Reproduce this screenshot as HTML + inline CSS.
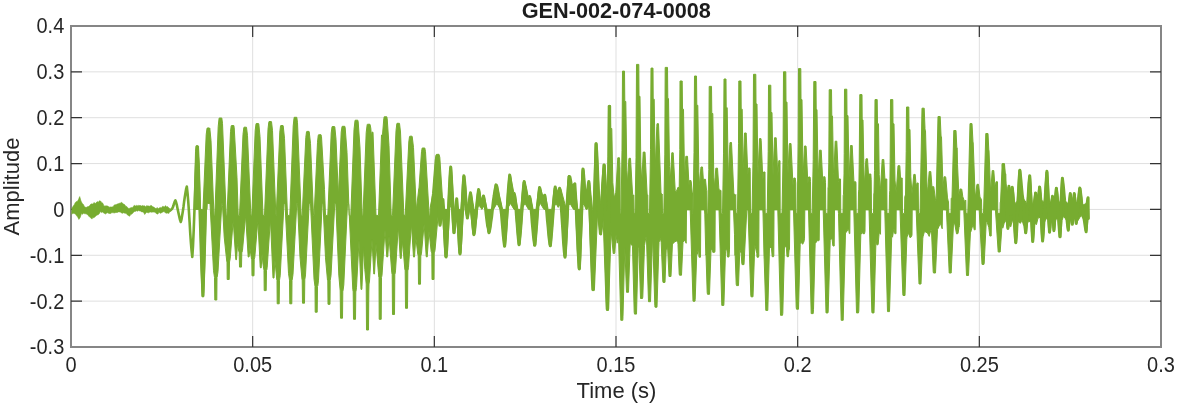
<!DOCTYPE html>
<html><head><meta charset="utf-8"><title>GEN-002-074-0008</title>
<style>html,body{margin:0;padding:0;background:#fff;width:1177px;height:404px;overflow:hidden}</style>
</head><body>
<svg width="1177" height="404" viewBox="0 0 1177 404" style="position:absolute;left:0;top:0;will-change:transform">
<rect width="1177" height="404" fill="#fff"/>
<path d="M252.67 26.0V347.0M434.33 26.0V347.0M616.00 26.0V347.0M797.67 26.0V347.0M979.33 26.0V347.0M71.0 71.86H1161.0M71.0 117.71H1161.0M71.0 163.57H1161.0M71.0 209.43H1161.0M71.0 255.29H1161.0M71.0 301.14H1161.0" stroke="#dfdfdf" stroke-width="1" fill="none"/>
<rect x="71.0" y="26.0" width="1090.0" height="321.0" fill="none" stroke="#868686" stroke-width="2"/>
<path d="M252.67 347.0v-11M252.67 26.0v11M434.33 347.0v-11M434.33 26.0v11M616.00 347.0v-11M616.00 26.0v11M797.67 347.0v-11M797.67 26.0v11M979.33 347.0v-11M979.33 26.0v11M71.0 71.86h11M1161.0 71.86h-11M71.0 117.71h11M1161.0 117.71h-11M71.0 163.57h11M1161.0 163.57h-11M71.0 209.43h11M1161.0 209.43h-11M71.0 255.29h11M1161.0 255.29h-11M71.0 301.14h11M1161.0 301.14h-11" stroke="#333" stroke-width="1.2" fill="none"/>
<g fill="#77ac30" stroke="#77ac30" stroke-linejoin="round" stroke-linecap="round">
<polygon points="71.9,208.0 73.1,206.3 74.2,204.8 75.4,202.4 76.5,201.5 77.5,201.3 78.6,199.3 79.7,196.6 81.0,201.1 82.3,203.6 83.4,204.4 84.5,206.7 85.6,207.3 86.7,207.3 87.8,206.6 88.8,206.5 89.9,205.3 91.0,203.9 92.0,203.9 93.1,204.1 94.1,202.4 95.2,203.6 96.2,202.6 97.3,201.6 98.3,202.3 99.4,200.8 100.5,201.0 101.6,202.4 102.7,203.1 103.8,205.4 104.9,206.3 105.9,205.7 107.0,206.0 108.0,206.1 109.1,207.2 110.1,206.9 111.1,207.0 112.2,207.0 113.2,206.6 114.3,204.9 115.3,204.8 116.3,204.5 117.3,204.0 118.3,203.7 119.3,203.3 120.3,203.3 121.3,202.2 122.4,203.1 123.5,204.1 124.6,204.6 125.7,206.2 126.8,206.5 127.8,208.0 128.9,208.5 130.0,208.2 131.1,207.5 132.2,207.8 133.2,206.7 134.3,205.2 135.3,206.0 136.4,205.4 137.4,205.7 138.5,205.4 139.5,205.5 140.5,205.5 141.6,206.1 142.6,205.5 143.7,205.9 144.7,205.8 145.7,206.9 146.7,205.6 147.8,206.1 148.8,205.9 149.8,206.3 150.8,205.4 151.9,205.8 152.9,206.9 154.0,207.1 155.1,208.3 156.1,208.6 157.2,207.5 158.2,208.8 159.3,207.9 160.3,207.4 161.3,207.9 162.4,206.4 163.4,206.4 164.5,207.0 165.5,205.6 166.6,207.0 167.7,206.6 168.8,208.0 169.9,208.6 169.0,213.4 167.8,213.0 166.7,213.2 165.6,213.1 164.4,211.8 163.2,211.7 162.1,212.4 161.1,212.9 160.0,213.3 159.0,212.3 157.9,214.1 156.9,214.0 155.9,213.0 154.9,212.2 153.9,212.1 152.8,212.0 151.8,212.3 150.8,212.0 149.8,212.1 148.8,212.8 147.8,212.7 146.7,212.2 145.7,213.2 144.7,214.5 143.7,212.4 142.6,211.9 141.6,212.0 140.5,210.9 139.5,210.9 138.5,210.6 137.4,211.2 136.4,210.8 135.3,211.4 134.3,211.4 133.1,212.8 131.9,214.0 130.7,214.6 129.5,216.3 128.3,215.4 127.2,214.7 126.0,213.2 124.8,213.2 123.7,212.7 122.6,213.3 121.5,212.9 120.3,212.1 119.2,211.9 118.1,211.9 117.0,212.7 116.0,212.2 115.0,213.0 114.0,212.8 112.9,212.8 111.9,212.5 110.9,213.4 109.9,213.6 108.8,213.4 107.8,212.7 106.7,213.1 105.7,214.0 104.7,213.6 103.6,212.9 102.6,212.1 101.5,212.6 100.5,211.4 99.4,213.5 98.2,214.8 97.1,215.0 96.1,215.7 95.0,216.7 94.0,217.8 92.9,217.6 91.9,219.1 90.9,218.1 89.8,216.9 88.8,216.2 87.7,215.1 86.7,214.0 85.7,213.8 84.6,213.7 83.6,213.3 82.5,214.3 81.5,213.5 80.2,217.4 78.9,219.4 77.7,217.0 76.6,215.8 75.4,213.9 74.2,213.5 73.1,213.3 71.9,214.1" stroke-width="0.6"/>
<polygon points="194.0,209.4 195.5,151.8 196.0,145.8 198.2,145.8 198.5,146.2 199.5,168.8 200.5,209.4 202.8,209.4 203.0,208.8 206.2,134.5 207.0,128.5 207.2,128.0 209.5,128.0 209.8,128.3 211.0,140.5 214.0,215.4 214.8,215.4 218.2,126.5 219.0,119.0 219.2,118.0 221.8,118.0 222.5,123.4 226.2,215.4 227.0,215.4 230.5,131.6 231.2,125.8 231.5,125.5 233.8,125.5 234.2,127.4 237.0,177.8 238.2,215.4 239.5,215.4 243.0,134.3 243.8,127.9 244.0,127.2 246.2,127.2 246.5,127.3 247.5,135.6 250.8,213.7 251.0,215.4 251.8,215.4 255.2,130.3 256.0,124.0 256.2,123.5 258.5,123.5 258.8,123.8 260.0,136.6 263.0,215.4 264.5,215.4 268.0,129.1 268.8,122.2 269.0,121.5 271.2,121.5 271.5,121.7 272.5,130.4 275.8,213.6 276.0,215.4 276.2,215.4 279.8,132.1 280.5,126.0 280.8,125.5 283.0,125.5 283.2,125.8 284.5,138.3 287.5,215.4 289.8,215.4 293.2,125.9 294.0,118.3 294.2,117.3 296.8,117.3 297.5,122.7 301.2,215.4 302.2,215.4 305.8,137.6 306.5,131.8 306.8,131.4 309.0,131.4 309.2,131.7 310.5,143.4 313.5,215.4 314.0,215.4 314.2,213.8 317.5,142.3 318.2,135.8 318.5,134.8 321.0,134.7 321.5,136.7 324.5,189.4 325.5,215.4 327.8,215.4 331.2,133.1 332.0,127.0 332.2,126.5 334.5,126.5 334.8,126.8 336.0,139.2 338.2,191.2 338.5,193.7 341.2,132.2 342.0,126.8 342.2,126.3 344.8,126.3 345.2,128.0 347.0,152.3 349.2,215.4 350.8,215.4 354.0,129.6 355.0,120.8 355.2,120.2 357.8,120.2 358.2,122.0 360.0,148.0 362.2,215.4 363.0,215.4 366.2,132.5 367.2,124.6 367.5,124.2 370.0,124.3 370.8,128.2 371.5,137.5 371.8,133.5 372.0,132.2 373.0,132.2 376.0,215.4 378.5,215.4 381.5,135.0 382.5,134.8 383.8,118.7 384.2,116.8 386.8,116.8 387.2,118.7 389.0,145.5 391.2,215.4 392.5,215.4 396.0,130.7 396.8,124.0 397.0,123.3 399.2,123.3 399.5,123.4 400.5,132.0 403.8,213.6 404.0,215.4 405.2,215.4 408.8,142.0 409.5,136.6 409.8,136.2 412.0,136.2 412.2,136.5 413.5,147.5 416.2,207.9 416.5,208.5 418.8,188.4 419.0,188.0 421.5,151.7 422.2,148.0 424.8,148.0 425.5,151.7 429.2,215.4 430.0,215.4 430.2,207.9 432.5,195.4 433.0,195.4 435.8,158.0 436.5,154.4 439.0,154.3 439.8,157.3 443.2,209.4 447.5,209.4 447.8,208.2 449.8,168.3 450.0,167.8 451.5,167.8 454.2,208.5 454.5,209.4 460.8,209.4 463.0,176.0 464.8,176.0 467.5,209.4 469.5,193.8 469.8,193.4 471.2,193.4 471.5,193.7 474.0,208.7 474.2,209.4 475.5,209.4 477.8,190.0 479.5,190.0 481.5,202.5 482.5,197.0 482.8,196.7 484.2,196.7 484.5,196.9 487.0,208.8 487.2,209.4 492.5,209.4 490.0,232.4 488.0,232.4 485.5,211.1 485.2,206.9 484.2,205.1 482.0,209.4 481.5,209.1 479.5,203.7 479.2,203.8 477.8,207.9 475.0,233.7 474.8,234.6 473.0,234.6 470.0,207.1 468.2,217.7 466.8,218.0 465.0,209.9 464.8,203.5 463.8,206.0 461.0,253.5 459.0,253.5 456.5,212.7 456.2,212.9 454.8,233.5 453.2,233.5 451.8,212.9 451.5,203.4 449.8,208.2 447.0,257.0 445.0,257.0 442.5,212.9 442.2,211.6 440.8,224.6 439.2,224.6 438.2,216.1 438.0,216.7 435.0,250.3 434.5,252.5 434.2,252.9 434.0,279.5 432.0,279.5 431.8,252.9 431.2,251.6 429.0,231.0 427.2,257.0 426.5,257.0 426.2,256.2 424.2,224.5 424.0,225.4 421.5,253.1 421.0,255.4 420.8,255.8 420.5,284.2 418.5,284.2 418.2,255.8 417.8,254.5 415.8,237.2 414.5,257.0 413.5,257.0 411.5,225.3 411.2,226.7 408.5,267.3 408.0,270.3 407.8,270.7 407.5,308.3 405.5,308.3 405.2,270.7 404.8,269.0 402.5,241.0 401.2,258.5 400.5,258.5 400.2,257.7 398.5,229.0 398.2,228.0 395.5,270.9 395.0,274.1 394.8,274.6 394.5,314.5 392.5,314.5 392.2,274.6 391.8,272.8 389.0,236.4 387.8,256.2 387.5,257.0 386.8,257.0 385.0,230.0 382.0,275.3 381.5,277.5 381.2,319.3 379.2,319.3 379.0,277.5 378.8,277.2 376.0,243.9 374.5,274.0 373.8,274.0 372.0,239.7 369.5,281.0 369.0,284.0 368.8,292.0 368.5,330.0 366.5,330.0 366.2,284.1 364.8,269.5 363.5,246.7 362.0,286.7 361.8,289.4 361.0,289.4 359.0,240.6 356.5,287.3 356.0,291.2 355.8,291.8 355.5,319.3 353.5,319.3 353.2,291.8 352.8,289.6 348.8,205.0 348.5,203.4 347.5,203.4 343.8,284.9 343.0,290.8 342.8,291.0 342.5,318.2 340.5,318.2 340.2,290.9 338.8,275.1 335.8,203.4 334.8,203.4 331.0,275.7 330.2,280.5 330.0,304.3 328.0,304.3 327.8,280.6 327.5,280.4 325.5,257.8 323.0,203.4 322.2,203.4 318.5,280.2 317.8,286.1 317.5,286.5 317.2,312.2 315.2,312.2 315.0,286.5 314.0,279.0 310.5,203.4 309.2,203.4 305.5,274.9 304.8,279.7 304.5,303.2 302.5,303.2 302.2,279.8 302.0,279.6 300.0,257.2 297.5,203.4 296.8,203.4 293.0,274.4 292.2,279.9 292.0,280.2 291.8,303.8 289.8,303.8 289.5,280.2 288.5,273.3 285.0,203.4 284.0,203.4 280.2,275.8 279.5,280.2 279.2,303.8 277.2,303.8 277.0,280.2 276.8,279.9 275.0,260.9 274.8,260.9 274.0,278.0 273.0,278.0 270.5,220.8 270.2,222.4 267.2,267.3 266.8,270.0 266.5,270.3 266.2,290.6 264.2,290.6 264.0,270.3 263.0,264.3 262.2,255.5 262.0,254.3 261.2,267.9 260.5,267.9 260.2,266.9 258.0,223.0 257.8,221.0 254.8,257.3 254.2,259.2 254.0,275.8 252.0,275.8 251.8,259.2 251.5,259.1 250.0,248.5 249.8,248.3 249.2,256.2 249.0,257.0 248.2,257.0 245.8,218.1 245.5,216.6 242.5,250.2 242.0,252.3 241.8,252.7 241.5,267.1 239.5,267.1 239.2,252.7 238.8,251.4 237.8,244.6 237.5,244.6 236.5,259.7 235.8,259.7 233.2,220.3 230.2,258.6 229.5,262.0 229.2,279.5 227.2,279.5 227.0,262.0 226.8,261.7 224.2,236.9 222.5,205.5 222.2,203.4 221.8,203.4 218.0,271.7 217.2,277.0 217.0,277.4 216.8,300.0 214.8,300.0 214.5,277.4 213.5,270.7 210.0,203.4 207.2,203.4 207.0,209.4 206.5,209.4 206.2,211.2 204.0,293.2 203.8,296.8 202.0,296.8 199.5,209.4 194.0,209.4" stroke-width="1"/>
<polygon points="492.8,208.2 495.2,184.5 497.0,184.5 502.5,208.9 502.8,209.4 506.0,209.4 506.2,208.7 508.8,176.0 509.0,175.6 510.5,175.6 513.8,192.5 515.0,192.5 517.8,209.0 518.0,209.4 520.5,209.4 520.8,209.1 523.2,182.2 523.5,181.8 525.0,181.8 528.2,196.4 528.5,196.8 528.8,195.6 530.2,195.5 530.5,195.8 533.0,208.8 533.2,209.4 536.0,209.4 538.8,187.8 540.5,187.8 543.2,197.5 543.8,194.9 545.2,194.7 545.5,195.0 548.0,208.7 548.2,209.4 551.8,209.4 554.2,188.1 554.5,187.8 556.0,187.8 558.0,194.4 559.0,188.5 560.8,188.6 565.8,207.4 568.2,176.0 568.5,175.6 570.0,175.6 572.8,190.2 573.5,186.5 575.0,186.5 577.8,209.4 580.0,209.4 582.0,170.4 582.2,169.4 583.8,169.4 584.0,170.2 586.2,202.6 587.8,183.4 588.0,182.3 589.5,182.3 589.8,182.5 592.5,209.4 593.0,209.4 595.2,143.5 597.0,143.5 599.5,203.6 599.8,204.2 600.5,202.9 603.2,164.0 604.8,164.0 605.2,165.9 607.2,198.7 608.0,156.3 608.2,105.7 610.5,105.7 610.8,128.5 611.8,128.5 612.8,182.3 614.2,198.3 615.5,192.8 615.8,192.5 617.8,157.8 619.5,157.8 620.0,169.1 620.2,213.4 621.0,213.4 622.0,150.5 622.5,71.1 624.5,71.1 624.8,101.5 625.8,101.5 626.8,170.3 627.5,182.9 628.8,159.9 629.0,158.3 630.5,158.3 632.5,193.0 632.8,194.7 633.2,195.3 633.8,195.0 634.0,213.4 635.0,213.4 636.0,157.8 636.5,64.4 638.8,64.4 639.0,96.3 640.0,96.3 640.8,163.2 641.8,183.0 643.2,152.1 645.0,152.1 647.2,195.4 647.8,194.9 648.0,213.4 649.5,213.4 650.5,149.3 651.0,68.1 653.0,68.1 653.2,99.2 654.2,99.2 655.2,169.4 656.8,126.3 657.0,123.7 658.5,123.7 661.0,193.0 662.0,194.6 662.2,194.1 662.5,213.4 663.8,213.4 664.8,154.1 665.2,67.4 667.5,67.4 667.8,98.6 668.5,98.6 669.5,166.7 670.2,181.5 671.8,152.8 673.2,152.8 675.2,190.3 675.5,192.0 676.5,191.1 678.0,187.2 679.0,187.7 679.2,187.4 679.8,149.6 680.0,81.0 682.2,81.0 682.5,109.2 683.5,109.2 684.5,175.1 684.8,176.3 685.8,156.3 687.5,156.3 689.0,185.7 689.5,180.5 691.0,180.5 691.2,181.4 692.2,192.3 692.5,192.5 692.8,213.4 693.0,213.4 694.0,152.6 694.5,76.0 696.5,76.0 696.8,105.3 697.8,105.3 698.8,171.7 699.5,183.8 699.8,184.4 700.8,168.3 701.0,167.0 702.5,167.0 703.5,182.2 704.0,179.3 705.5,179.3 706.5,190.1 706.8,190.6 707.0,213.4 707.8,213.4 708.8,169.5 709.2,86.4 711.5,86.4 711.8,113.5 712.8,113.5 713.8,177.3 714.5,187.1 715.8,168.2 717.5,168.2 718.8,187.8 719.0,189.2 719.8,190.2 721.0,190.4 721.2,213.4 722.5,213.4 723.5,153.9 724.0,79.0 726.0,79.0 726.2,107.7 727.2,107.7 728.2,172.5 728.5,175.4 729.8,144.6 730.0,142.5 731.5,142.5 733.8,192.9 734.0,194.0 735.5,195.3 735.8,194.5 736.0,213.4 737.2,213.4 737.5,209.4 738.5,143.7 738.8,81.0 741.0,81.0 741.2,109.2 742.2,109.2 743.0,166.1 743.2,169.3 744.5,133.0 746.2,133.0 747.8,174.2 748.0,173.8 748.2,169.3 748.5,168.0 750.0,168.0 750.2,171.2 750.5,213.4 752.0,213.4 753.0,161.4 753.5,74.3 755.8,74.3 756.0,104.0 757.0,104.0 757.8,166.3 758.0,174.9 759.5,138.6 761.0,138.6 761.2,140.8 762.8,179.0 763.0,178.7 763.5,172.0 765.0,172.0 765.2,213.4 767.2,213.4 768.2,151.5 768.5,85.2 770.8,85.2 771.0,112.5 772.0,112.5 773.0,176.3 774.5,137.8 776.2,137.8 777.8,176.4 778.8,160.7 780.0,160.7 780.2,213.4 782.0,213.4 783.0,160.5 783.5,71.8 785.8,71.8 786.0,102.1 787.0,102.1 787.8,165.5 788.0,174.2 789.2,145.5 789.5,143.5 791.0,143.5 793.0,186.0 793.8,178.0 795.2,178.0 795.8,183.1 796.0,213.4 797.2,213.4 798.2,143.8 798.5,68.6 800.8,68.6 801.0,99.6 802.0,99.6 803.0,171.8 803.2,174.1 804.5,146.0 806.0,146.0 806.2,148.0 807.8,182.2 808.0,182.8 808.5,177.0 810.0,177.0 810.2,178.0 810.5,181.6 810.8,213.4 812.2,213.4 813.2,159.6 813.8,81.5 816.0,81.5 816.2,109.6 817.0,109.6 818.0,171.0 818.2,177.4 819.5,150.2 821.2,150.2 822.8,182.1 823.0,181.4 823.2,177.8 823.5,176.8 825.0,176.8 825.5,182.7 825.8,213.4 827.8,213.4 828.0,187.9 828.2,188.1 828.8,162.8 829.2,89.7 831.5,89.7 831.8,116.0 832.5,116.0 833.5,173.4 833.8,175.8 835.2,141.2 836.8,141.2 838.5,181.2 838.8,181.4 839.0,179.0 840.5,179.0 840.8,213.4 843.0,213.4 843.2,195.5 843.5,194.3 844.0,173.9 844.2,153.4 844.5,89.2 846.8,89.2 847.0,115.6 848.0,115.6 849.0,177.3 849.2,175.9 850.5,145.5 852.2,145.5 854.0,183.3 854.2,181.8 855.8,181.8 856.0,183.3 856.2,213.4 858.2,213.4 858.5,191.2 858.8,189.9 859.2,164.7 859.8,94.6 862.0,94.6 862.2,119.9 863.0,119.9 864.0,174.9 864.5,183.7 865.8,160.4 866.0,158.8 867.5,158.8 868.8,179.7 869.2,174.0 870.8,174.0 871.2,179.7 871.5,213.4 873.5,213.4 873.8,193.4 874.0,193.1 874.5,170.4 875.0,99.6 877.2,99.6 877.5,123.8 878.5,123.8 879.2,174.4 880.2,190.1 880.5,188.7 882.2,159.5 883.8,159.5 885.0,180.7 885.2,179.0 886.8,179.0 887.0,213.4 889.2,213.4 889.5,194.2 889.8,190.6 890.2,158.2 890.5,99.6 892.8,99.6 893.0,123.8 894.0,123.8 895.0,180.1 896.2,193.3 898.0,165.7 899.8,165.7 900.8,182.1 901.2,178.0 902.2,178.0 902.5,213.4 904.5,213.4 904.8,196.7 905.2,195.5 905.5,195.9 906.2,151.6 906.5,107.0 908.8,107.0 909.0,129.5 910.0,129.5 910.8,176.8 912.0,193.9 913.8,174.4 915.2,174.4 916.2,186.4 916.5,186.7 916.8,183.8 917.0,183.0 918.2,183.0 918.5,213.4 920.0,213.4 922.0,108.2 924.2,108.2 925.0,128.4 925.2,130.5 925.5,130.5 927.0,186.3 927.5,193.1 929.2,171.6 930.8,171.6 932.0,187.7 932.2,186.7 933.8,186.7 935.5,200.0 935.8,200.3 936.0,200.0 936.2,198.3 938.0,116.5 940.2,116.5 941.0,135.1 941.2,136.9 941.5,136.9 943.0,188.2 944.0,176.8 945.5,176.8 945.8,177.8 947.5,197.9 948.2,200.9 948.5,201.3 948.8,213.4 951.0,213.4 951.2,198.2 951.8,197.9 952.0,197.5 953.8,130.5 956.0,130.5 956.8,147.4 957.0,147.9 957.2,147.9 957.5,164.3 958.8,192.5 959.0,195.1 959.2,194.6 960.0,189.0 961.5,189.0 961.8,189.6 962.8,196.7 964.5,201.4 965.8,200.1 966.0,213.4 967.8,213.4 970.0,123.6 972.0,123.6 973.0,142.5 973.2,142.5 975.0,193.0 975.5,196.6 976.8,185.1 977.0,184.3 978.5,184.3 980.0,197.4 980.2,197.8 980.5,197.6 981.5,199.9 981.8,213.4 983.5,213.4 985.8,133.5 988.0,133.5 988.8,150.2 989.0,150.2 990.5,189.9 990.8,190.3 992.2,170.6 993.8,170.6 995.0,187.1 995.2,188.3 995.8,182.7 996.0,181.8 997.5,181.8 997.8,213.4 1000.0,213.4 1000.2,202.2 1000.5,202.5 1002.2,163.7 1004.5,163.7 1005.2,173.5 1005.8,173.8 1006.0,183.3 1007.0,196.3 1008.0,186.8 1009.8,186.8 1010.5,194.3 1010.8,194.5 1011.5,187.8 1013.0,187.8 1013.2,188.3 1014.5,201.2 1015.5,203.5 1015.8,203.4 1017.2,200.9 1019.0,170.0 1020.5,170.0 1020.8,170.9 1022.2,198.7 1023.5,198.7 1023.8,199.0 1024.0,199.9 1025.2,200.8 1026.8,204.4 1027.0,204.1 1028.8,176.7 1029.0,175.9 1030.5,175.9 1032.2,202.2 1033.2,204.2 1034.8,192.7 1036.5,192.7 1037.5,199.7 1038.8,186.8 1040.5,186.8 1042.0,201.7 1042.8,200.6 1044.0,203.7 1044.2,203.2 1046.0,171.9 1047.8,171.9 1049.5,202.3 1049.8,202.4 1050.8,201.3 1051.8,196.7 1053.2,196.7 1054.0,200.3 1054.2,200.7 1055.5,187.8 1057.2,187.8 1058.5,200.1 1059.8,203.6 1061.5,178.9 1063.2,178.9 1065.0,202.0 1065.2,201.8 1066.8,202.2 1068.0,204.0 1069.5,193.7 1071.0,193.7 1071.2,194.1 1072.2,201.6 1073.5,193.7 1075.0,193.7 1075.2,194.1 1076.2,201.6 1077.2,202.6 1077.5,202.2 1079.0,187.8 1080.5,187.8 1080.8,188.3 1082.5,205.2 1086.0,203.6 1087.2,197.7 1088.5,197.7 1088.5,211.8 1087.0,230.1 1086.8,231.3 1085.5,231.3 1085.2,230.7 1084.0,216.5 1082.8,218.3 1081.2,215.2 1078.0,220.5 1077.5,219.9 1077.0,223.4 1075.5,223.4 1074.8,219.0 1074.0,217.3 1073.0,224.4 1071.5,224.4 1070.5,216.8 1070.2,216.9 1069.0,230.3 1067.5,230.3 1066.8,221.6 1066.5,220.3 1063.8,216.4 1063.5,216.4 1062.0,220.3 1060.8,237.3 1059.2,237.3 1058.0,218.7 1057.8,218.2 1055.8,219.5 1054.8,229.7 1054.5,230.3 1053.2,230.3 1052.0,218.6 1051.2,221.0 1050.2,232.3 1048.8,232.3 1047.8,220.2 1046.0,218.2 1044.5,222.4 1043.5,239.4 1043.2,241.2 1042.0,241.2 1041.8,240.3 1040.5,218.2 1040.2,217.3 1038.0,218.1 1036.5,224.4 1036.2,224.7 1034.8,223.0 1034.5,223.5 1033.5,241.2 1032.0,241.2 1030.8,220.9 1030.5,220.9 1030.0,221.8 1028.5,221.3 1027.2,223.9 1026.5,233.3 1025.0,233.3 1024.2,224.7 1023.8,225.3 1023.5,225.1 1022.0,220.0 1020.5,223.2 1020.2,223.3 1018.0,221.4 1017.8,221.6 1016.5,243.2 1015.0,243.2 1014.0,225.6 1012.5,219.9 1012.2,220.2 1010.8,226.8 1009.0,225.5 1008.8,227.9 1008.5,228.4 1007.2,228.4 1006.2,220.9 1006.0,220.1 1004.2,223.2 1002.8,228.2 1002.0,225.2 1000.2,252.0 998.2,252.0 995.5,211.0 995.2,209.9 991.5,209.9 991.2,236.0 989.8,236.0 988.8,227.6 986.8,221.0 986.2,222.6 984.2,263.4 984.0,264.4 982.0,264.4 979.2,209.9 975.5,209.9 975.2,229.8 974.2,229.8 973.2,223.9 970.8,231.8 970.5,230.8 968.5,275.5 966.5,275.5 963.8,210.6 963.5,209.9 959.8,209.9 959.5,225.5 959.2,227.0 959.0,227.3 958.0,233.6 956.5,233.8 954.8,224.2 953.5,223.2 951.2,273.0 949.2,273.0 946.5,211.8 946.2,209.9 942.5,209.9 942.2,228.8 940.5,223.7 940.2,223.7 937.5,229.7 935.5,273.0 933.5,273.0 933.2,271.8 931.5,230.7 931.0,230.2 930.8,230.3 929.2,236.4 927.5,233.0 924.5,231.4 923.0,236.8 922.8,238.4 921.0,284.0 919.0,284.0 916.2,210.8 916.0,209.9 912.2,209.9 912.0,234.9 911.5,236.7 910.0,237.7 908.5,233.2 908.2,233.4 907.0,237.1 906.8,239.7 905.0,295.5 903.0,295.5 902.8,293.9 900.0,209.9 896.2,209.9 896.0,233.7 894.8,233.7 894.0,228.8 893.8,229.0 892.5,237.2 892.2,236.7 891.8,233.0 889.5,311.6 887.5,311.6 884.8,211.3 884.5,209.9 880.8,209.9 880.5,234.3 879.2,232.4 878.2,244.2 878.0,244.8 876.8,244.8 876.0,239.1 874.0,312.9 872.0,312.9 871.8,311.0 869.0,209.9 865.2,209.9 865.0,231.3 864.5,233.7 863.0,233.7 862.0,232.5 860.8,234.8 858.8,311.0 858.5,312.9 856.5,312.9 853.8,209.9 850.0,209.9 849.8,233.7 849.5,233.7 849.2,233.3 848.8,229.8 847.8,229.8 846.0,232.7 845.5,232.6 843.2,320.3 841.2,320.3 838.5,213.5 838.2,209.9 834.5,209.9 834.2,246.0 833.0,246.0 832.8,245.4 832.0,237.9 830.2,240.5 828.2,311.0 828.0,312.9 826.0,312.9 823.2,209.9 819.5,209.9 819.2,240.1 818.8,240.8 817.2,240.6 815.8,242.9 815.5,242.9 815.2,242.2 813.5,309.7 813.2,313.6 811.2,313.6 808.5,209.9 804.8,209.9 804.5,238.8 803.8,242.3 803.5,242.3 802.8,244.2 800.5,242.0 800.2,244.5 798.5,309.2 796.5,309.2 796.2,307.4 793.5,209.9 789.8,209.9 789.5,249.4 789.2,248.6 788.5,256.7 787.0,256.7 786.5,248.8 786.2,247.6 784.5,245.8 782.8,313.3 782.5,315.3 780.5,315.3 777.8,209.9 774.0,209.9 773.8,255.9 773.5,256.7 772.2,256.7 771.5,248.3 769.5,246.9 767.8,310.4 765.8,310.4 764.2,259.9 764.0,256.3 763.0,213.1 762.8,209.9 759.0,209.9 758.8,255.9 758.5,257.2 757.0,257.2 756.8,253.2 754.8,244.7 753.0,296.8 751.0,296.8 750.8,295.2 748.0,209.9 746.8,209.9 744.0,264.6 742.0,264.6 741.8,263.6 741.2,253.4 740.0,250.2 739.8,250.3 738.5,285.6 736.5,285.6 736.2,284.2 735.2,256.0 735.0,255.2 734.8,255.2 734.5,234.8 733.5,209.9 729.8,209.9 729.5,249.9 729.0,257.0 727.5,257.0 726.8,248.9 726.0,249.8 725.5,251.2 724.0,301.8 723.8,305.4 721.8,305.4 719.0,209.9 715.2,209.9 715.0,250.8 714.8,252.2 713.5,252.2 713.2,252.8 711.8,249.3 711.5,249.2 711.0,250.5 709.5,294.3 707.5,294.3 707.2,292.7 706.0,254.3 705.8,255.1 704.8,214.1 704.5,209.9 700.8,209.9 700.5,257.2 699.0,257.2 698.5,249.2 698.2,249.6 697.2,254.4 696.8,252.3 695.2,299.5 695.0,301.2 693.0,301.2 690.2,209.9 686.5,209.9 686.2,243.3 684.5,240.0 683.0,242.3 681.5,275.2 679.5,275.2 679.2,274.0 678.0,244.7 677.8,242.2 676.5,241.1 674.8,241.7 673.2,243.5 672.8,242.0 672.5,242.9 671.0,276.5 669.0,276.5 667.5,245.2 666.8,249.4 666.5,248.8 666.2,249.8 665.0,282.4 663.0,282.4 662.8,281.1 661.2,242.5 660.5,238.8 660.2,238.7 659.0,242.4 657.0,307.2 655.0,307.2 654.8,305.5 652.8,239.7 652.5,239.1 650.5,301.7 648.5,301.7 646.5,239.1 646.0,236.4 644.5,245.7 642.8,296.9 642.5,298.5 640.5,298.5 638.8,243.8 638.2,248.7 636.5,314.1 634.5,314.1 634.2,312.2 632.5,246.8 632.2,245.7 630.2,243.4 628.5,292.3 626.5,292.3 624.8,247.0 623.0,316.3 622.8,320.3 620.8,320.3 618.5,236.7 617.2,243.2 616.0,234.4 614.8,252.8 614.5,253.5 613.2,253.5 611.2,231.4 611.0,233.9 608.5,310.4 606.5,310.4 606.2,308.9 603.2,220.0 601.5,234.9 600.0,234.9 597.5,214.5 594.5,288.1 594.2,290.6 592.2,290.6 588.8,205.7 587.5,209.1 586.0,209.4 583.8,203.5 583.0,205.6 580.2,269.0 578.5,269.0 578.2,267.9 575.5,209.4 573.5,209.4 570.0,203.4 568.8,205.6 566.0,256.5 564.0,256.5 561.5,212.9 561.2,204.5 560.8,203.7 560.5,203.6 558.2,207.4 556.0,203.4 554.0,206.9 551.2,245.6 549.5,245.6 549.2,244.9 546.5,209.4 543.8,209.3 540.5,203.6 540.2,203.7 538.5,206.8 535.8,245.0 535.5,245.7 533.8,245.7 531.0,209.4 528.5,209.4 525.0,203.4 523.0,206.9 520.0,244.6 518.2,244.6 515.5,210.7 515.2,209.4 514.0,209.4 510.5,203.4 508.5,206.9 505.5,245.7 503.8,245.7 501.0,210.7 500.8,209.4 500.2,209.3 497.0,203.6 496.8,203.7 493.5,209.4 492.8,209.4" stroke-width="1"/>
<polyline points="169.5,211.0 170.1,210.6 170.8,210.0 171.4,209.4 172.0,209.0 172.7,207.7 173.4,205.8 174.0,203.6 174.7,201.7 175.4,200.4 176.1,202.3 176.8,204.8 177.4,207.9 178.1,211.2 178.8,214.5 179.5,217.6 180.1,220.1 180.8,222.0 181.5,219.3 182.1,215.8 182.8,211.5 183.5,206.7 184.1,201.8 184.8,197.0 185.5,192.7 186.1,189.2 186.8,186.5 187.5,192.6 188.2,200.8 188.9,210.8 189.6,221.8 190.2,232.7 190.9,242.7 191.6,250.9 192.3,257.0 193.0,245.9 193.7,230.3 194.4,211.7 195.1,192.1 195.8,173.5 196.5,157.9 197.2,146.8 197.8,157.9 198.5,172.9 199.1,190.9 199.7,210.9 200.4,231.7 201.0,251.7 201.6,269.7 202.3,284.7 202.9,295.8 203.6,281.5 204.3,261.9 205.0,238.2 205.7,212.4 206.3,186.6 207.0,162.9 207.7,143.3 208.4,129.0" fill="none" stroke-width="2.6"/>
<polyline points="432.2,204.7 432.9,199.2 433.5,193.9 434.2,185.3 434.9,176.7 435.6,168.0 436.2,160.4 436.9,156.1 437.5,165.5 438.1,181.8 438.8,198.2 439.4,213.8 440.0,225.3 440.6,220.7 441.2,216.1 441.7,209.4 442.3,203.4 442.9,199.6 443.5,207.8 444.1,221.5 444.8,236.2 445.4,247.8 446.0,257.0 446.7,248.9 447.3,235.2 448.0,221.2 448.7,205.0 449.4,189.4 450.0,177.0 450.7,167.0 451.4,177.9 452.0,192.9 452.7,208.3 453.3,222.6 454.0,232.7 454.7,225.9 455.4,215.8 456.0,206.6 456.7,198.9 457.4,207.4 458.0,219.1 458.7,232.7 459.3,245.3 460.0,253.9 460.6,243.5 461.3,230.5 461.9,215.0 462.6,199.8 463.2,185.0 463.9,175.8 464.5,181.2 465.1,187.8 465.6,197.2 466.2,206.4 466.8,212.5 467.4,218.0 468.0,213.5 468.6,208.8 469.3,203.5 469.9,197.2 470.5,192.9 471.2,199.4 471.9,209.1 472.5,219.8 473.2,228.2 473.9,234.6 474.6,230.7 475.2,223.1 475.9,217.1 476.6,208.3 477.3,200.5 477.9,195.0 478.6,189.6 479.2,192.8 479.7,198.0 480.2,203.7 480.8,206.1 481.5,204.7 482.1,201.3 482.8,198.8 483.5,196.0 484.2,200.3 484.9,204.7 485.6,208.7 486.2,214.3 486.9,220.3 487.6,225.6 488.3,228.5 489.0,232.7 489.6,230.1 490.3,226.4 490.9,221.4 491.6,217.1 492.2,211.3 492.9,205.2 493.5,200.0 494.2,195.6 494.8,191.1 495.5,187.9 496.1,184.9 496.8,186.4 497.5,190.2 498.1,195.0 498.8,198.5 499.5,201.6 500.2,205.3 500.8,208.6 501.5,214.1 502.1,221.4 502.7,228.4 503.3,235.3 504.0,241.8 504.6,246.2 505.2,239.5 505.9,230.8 506.5,221.5 507.1,210.5 507.8,199.7 508.4,189.4 509.1,182.1 509.7,175.1 510.3,179.2 511.0,186.8 511.6,194.1 512.3,199.6 512.9,203.9 513.5,202.0 514.0,199.0 514.6,195.2 515.2,200.6 515.9,207.0 516.5,216.2 517.2,224.4 517.8,232.5 518.5,239.9 519.1,244.7 519.7,238.7 520.4,231.7 521.0,223.7 521.7,213.7 522.3,203.5 522.9,194.9 523.6,186.5 524.2,181.6 524.8,185.3 525.5,188.0 526.1,194.0 526.7,198.4 527.4,202.1 528.0,204.3 528.6,201.8 529.2,199.5 529.8,198.3 530.4,201.9 531.0,208.2 531.6,213.9 532.2,222.4 532.9,229.9 533.5,236.4 534.1,241.1 534.7,245.2 535.4,239.1 536.1,230.9 536.8,222.4 537.5,211.6 538.2,202.3 538.9,193.2 539.6,187.5 540.2,190.7 540.8,194.1 541.3,196.1 541.9,200.6 542.5,202.4 543.0,200.0 543.6,199.2 544.2,196.6 544.7,195.3 545.4,200.7 546.1,206.2 546.8,212.1 547.5,220.9 548.2,227.5 548.9,236.1 549.6,241.5 550.3,245.8 550.9,239.8 551.5,233.1 552.1,225.7 552.8,216.5 553.4,208.3 554.0,199.2 554.6,192.6 555.2,187.1 555.8,189.9 556.3,193.7 556.9,195.4 557.4,198.4 558.0,195.5 558.5,194.1 559.0,190.8 559.6,188.3 560.3,195.3 561.0,203.4 561.6,211.7 562.3,222.1 563.0,232.8 563.6,242.8 564.3,251.5 565.0,257.1 565.6,248.0 566.2,236.1 566.8,223.5 567.4,209.0 568.0,194.7 568.6,183.9 569.2,176.5 569.9,177.0 570.5,180.3 571.2,184.6 571.8,186.3 572.5,188.3 573.1,187.5 573.6,187.2 574.2,184.7 574.8,183.8 575.4,193.3 576.1,205.4 576.7,219.7 577.4,234.2 578.0,249.3 578.7,259.8 579.3,268.9 579.9,256.6 580.5,239.6 581.1,218.6 581.8,198.2 582.4,182.4 583.0,169.0 583.6,174.8 584.2,183.3 584.7,191.0 585.3,198.9 585.9,204.6 586.5,200.3 587.1,195.3 587.6,190.9 588.2,185.5 588.8,181.5 589.4,192.8 590.0,208.7 590.6,227.0 591.2,245.8 591.8,263.4 592.4,279.7 593.0,289.5 593.6,268.1 594.2,234.4 594.9,199.3 595.5,166.4 596.1,143.5 596.7,152.5 597.3,165.4 597.9,180.7 598.6,196.6 599.2,212.1 599.8,223.7 600.4,233.4 601.0,225.6 601.7,213.0 602.3,199.8 602.9,185.0 603.6,172.6 604.2,165.2 604.9,186.5 605.6,219.0 606.2,255.3 606.9,288.0 607.6,309.0 608.3,250.1 608.9,166.7 609.6,106.3" fill="none" stroke-width="3.1"/>
<polyline points="1003.2,164.8 1003.8,171.5 1004.4,179.6 1005.0,185.1 1005.6,191.5 1006.2,201.9 1006.7,211.5 1007.3,221.2 1007.9,228.4 1008.4,207.7 1008.9,186.2 1009.6,194.6 1010.2,205.8 1010.9,214.2 1011.6,200.8 1012.3,187.3 1012.9,194.1 1013.5,204.0 1014.0,215.1 1014.6,227.1 1015.2,236.3 1015.8,242.7 1016.5,234.5 1017.1,221.9 1017.8,206.4 1018.5,191.1 1019.1,179.1 1019.8,170.3 1020.4,174.9 1021.0,181.0 1021.6,188.0 1022.2,194.1 1022.8,198.4 1023.4,203.5 1024.0,212.1 1024.5,220.4 1025.1,227.8 1025.7,232.8 1026.4,226.1 1027.0,216.6 1027.7,204.3 1028.4,192.3 1029.0,182.7 1029.7,175.7 1030.3,186.1 1030.9,200.5 1031.5,216.6 1032.1,231.8 1032.7,241.6 1033.3,233.3 1033.9,222.7 1034.4,210.8 1035.0,199.6 1035.6,193.0 1036.3,199.5 1036.9,207.8 1037.6,215.0 1038.3,206.4 1038.9,194.7 1039.6,186.9 1040.2,195.3 1040.8,207.5 1041.4,221.3 1042.0,233.4 1042.6,241.1 1043.2,234.1 1043.8,223.9 1044.4,212.6 1045.1,200.0 1045.7,188.2 1046.3,179.3 1046.9,171.3 1047.6,183.7 1048.2,202.3 1048.8,220.1 1049.5,232.2 1050.1,227.2 1050.7,218.6 1051.3,209.7 1051.9,202.2 1052.5,196.2 1053.0,206.9 1053.4,220.9 1053.9,230.7 1054.5,222.1 1055.2,208.5 1055.8,196.4 1056.4,188.3 1057.0,194.2 1057.6,202.6 1058.2,212.7 1058.8,222.4 1059.4,231.0 1060.0,236.8 1060.6,225.9 1061.2,207.8 1061.8,191.4 1062.4,178.3 1063.0,183.2 1063.6,188.6 1064.1,194.4 1064.7,200.9 1065.3,204.8 1065.9,208.8 1066.5,214.5 1067.1,220.9 1067.7,226.7 1068.3,230.2 1069.0,220.0 1069.6,204.5 1070.3,193.4 1071.0,203.4 1071.6,215.1 1072.3,224.3 1073.0,215.6 1073.6,203.1 1074.3,193.5 1074.9,201.9 1075.6,214.7 1076.2,223.5 1076.8,219.3 1077.4,212.6 1078.0,206.0 1078.6,198.7 1079.2,192.6 1079.8,188.1 1080.5,192.1 1081.2,197.9 1081.8,204.9 1082.5,210.1 1083.2,214.7 1083.8,217.4 1084.4,221.1 1084.9,224.5 1085.5,228.5 1086.1,231.8 1086.8,221.7 1087.4,207.2 1088.1,197.7 1088.2,208.2 1088.4,218.4" fill="none" stroke-width="3.0"/>
</g>
<g font-family="'Liberation Sans', sans-serif" fill="#262626">
<text transform="translate(64.3 33.40) scale(1 1.075)" font-size="20" text-anchor="end">0.4</text>
<text transform="translate(64.3 79.26) scale(1 1.075)" font-size="20" text-anchor="end">0.3</text>
<text transform="translate(64.3 125.11) scale(1 1.075)" font-size="20" text-anchor="end">0.2</text>
<text transform="translate(64.3 170.97) scale(1 1.075)" font-size="20" text-anchor="end">0.1</text>
<text transform="translate(64.3 216.83) scale(1 1.075)" font-size="20" text-anchor="end">0</text>
<text transform="translate(64.3 262.69) scale(1 1.075)" font-size="20" text-anchor="end">-0.1</text>
<text transform="translate(64.3 308.54) scale(1 1.075)" font-size="20" text-anchor="end">-0.2</text>
<text transform="translate(64.3 354.40) scale(1 1.075)" font-size="20" text-anchor="end">-0.3</text>
<text transform="translate(71.00 371.7) scale(1 1.075)" font-size="20" text-anchor="middle">0</text>
<text transform="translate(252.67 371.7) scale(1 1.075)" font-size="20" text-anchor="middle">0.05</text>
<text transform="translate(434.33 371.7) scale(1 1.075)" font-size="20" text-anchor="middle">0.1</text>
<text transform="translate(616.00 371.7) scale(1 1.075)" font-size="20" text-anchor="middle">0.15</text>
<text transform="translate(797.67 371.7) scale(1 1.075)" font-size="20" text-anchor="middle">0.2</text>
<text transform="translate(979.33 371.7) scale(1 1.075)" font-size="20" text-anchor="middle">0.25</text>
<text transform="translate(1161.00 371.7) scale(1 1.075)" font-size="20" text-anchor="middle">0.3</text>
<text x="616.5" y="397.5" font-size="22" text-anchor="middle">Time (s)</text>
<text transform="translate(18.7 186.5) rotate(-90)" font-size="22" text-anchor="middle">Amplitude</text>
<text x="616.3" y="17.8" font-size="21.7" font-weight="bold" text-anchor="middle" fill="#1c1c1c">GEN-002-074-0008</text>
</g>
</svg>
</body></html>
